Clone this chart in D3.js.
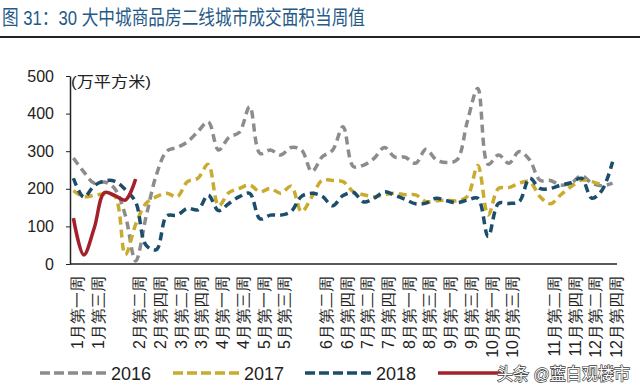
<!DOCTYPE html>
<html>
<head>
<meta charset="utf-8">
<script src="https://cdn.jsdelivr.net/npm/d3@7"></script>
<style>
  body { margin: 0; background: #fff; }
  svg { display: block; font-family: "Liberation Sans", Arial, "Noto Sans CJK SC", sans-serif; }
</style>
</head>
<body>
<div id="container"></div>
<script>
/* CONSTANTS AND GLOBALS */
const width = 640,
  height = 391,
  margin = { top: 76, bottom: 127, left: 70, right: 24 };

// weekly categories (53)
const weeks = [
  "1月第一周", "1月第二周", "1月第三周", "1月第四周", "1月第五周",
  "2月第一周", "2月第二周", "2月第三周", "2月第四周",
  "3月第一周", "3月第二周", "3月第三周", "3月第四周", "3月第五周",
  "4月第一周", "4月第二周", "4月第三周", "4月第四周",
  "5月第一周", "5月第二周", "5月第三周", "5月第四周", "5月第五周",
  "6月第一周", "6月第二周", "6月第三周", "6月第四周",
  "7月第一周", "7月第二周", "7月第三周", "7月第四周", "7月第五周",
  "8月第一周", "8月第二周", "8月第三周", "8月第四周",
  "9月第一周", "9月第二周", "9月第三周", "9月第四周",
  "10月第一周", "10月第二周", "10月第三周", "10月第四周", "10月第五周",
  "11月第一周", "11月第二周", "11月第三周", "11月第四周",
  "12月第一周", "12月第二周", "12月第三周", "12月第四周"
];

// labels actually shown under the axis
const tickLabels = [
  "1月第一周", "1月第三周",
  "2月第二周", "2月第四周", "3月第二周", "3月第四周",
  "4月第一周", "4月第三周", "5月第一周", "5月第三周",
  "6月第二周", "6月第四周", "7月第二周", "7月第四周",
  "8月第一周", "8月第三周", "9月第一周", "9月第三周",
  "10月第一周", "10月第三周",
  "11月第二周", "11月第四周", "12月第二周", "12月第四周"
];

const yTicks = [0, 100, 200, 300, 400, 500];
const years = ["2016", "2017", "2018", "2019"];

// 万平方米
const s2016 = [282, 245, 215, 218, 200, 130, 8, 125, 237, 300, 310, 325, 352, 378, 303, 337, 350, 418,
  294, 303, 290, 310, 303, 246, 285, 303, 365, 259, 263, 281, 310, 284, 284, 268, 305, 277,
  270, 277, 380, 467, 265, 290, 268, 299, 277, 223, 222, 210, 215, 235, 215, 208, 215];
const s2017 = [195, 179, 183, 186, 180, 25, 105, 161, 179, 188, 179, 219, 228, 265, 155, 190, 201, 210,
  192, 201, 188, 207, 139, 179, 223, 222, 219, 192, 184, 179, 184, 188, 184, 184, 166, 168,
  170, 168, 180, 262, 130, 201, 203, 215, 219, 179, 160, 184, 206, 223, 219, 210];
const s2018 = [228, 178, 208, 221, 220, 198, 165, 50, 38, 128, 130, 148, 144, 183, 142, 161, 179, 188,
  120, 130, 130, 140, 180, 188, 180, 155, 182, 190, 165, 175, 192, 183, 172, 160, 162, 175,
  168, 163, 170, 175, 73, 161, 161, 166, 228, 201, 201, 210, 216, 228, 175, 197, 272];
const s2019 = [122, 24, 95, 190, 182, 170, 226];

const series = [
  { name: years[0], values: s2016, color: "#8c8c8c", dash: "8,5" },
  { name: years[1], values: s2017, color: "#c9ab2e", dash: "8,5" },
  { name: years[2], values: s2018, color: "#1c4d6b", dash: "8,5" },
  { name: years[3], values: s2019, color: "#a4202b", dash: null }
];

const svg = d3.select("#container")
  .append("svg")
  .attr("width", width)
  .attr("height", height);

svg.append("rect").attr("width", width).attr("height", height).attr("fill", "#fff");

// title
svg.append("text")
  .attr("x", 2)
  .attr("y", 25)
  .attr("font-size", 20)
  .attr("fill", "#255a87")
  .attr("textLength", 363)
  .attr("lengthAdjust", "spacingAndGlyphs")
  .text("图 31：30 大中城商品房二线城市成交面积当周值");

svg.append("line")
  .attr("x1", 0).attr("x2", width)
  .attr("y1", 37).attr("y2", 37)
  .attr("stroke", "#222")
  .attr("stroke-width", 2);

/* SCALES */
const xScale = d3.scalePoint()
  .domain(weeks)
  .range([margin.left, width - margin.right])
  .padding(0.33);

const yScale = d3.scaleLinear()
  .domain([0, 500])
  .range([height - margin.bottom, margin.top]);

/* AXES */
const xAxis = d3.axisBottom(xScale)
  .tickValues(tickLabels)
  .tickSizeInner(0)
  .tickSizeOuter(0);

const xAxisGroup = svg.append("g")
  .attr("transform", `translate(0,${height - margin.bottom})`)
  .call(xAxis);

xAxisGroup.select(".domain")
  .attr("d", `M${margin.left},0H${width - margin.right + 1}`)
  .attr("stroke", "#222")
  .attr("stroke-width", 1.5);

xAxisGroup.selectAll(".tick text")
  .attr("transform", "rotate(-90)")
  .attr("text-anchor", "end")
  .attr("x", -12)
  .attr("y", 0)
  .attr("dy", 9)
  .attr("font-size", 16)
  .attr("fill", "#222");

const yAxis = d3.axisLeft(yScale)
  .tickValues(yTicks)
  .tickSizeInner(4)
  .tickSizeOuter(0)
  .tickPadding(12);

const yAxisGroup = svg.append("g")
  .attr("transform", `translate(${margin.left},0)`)
  .call(yAxis);

yAxisGroup.select(".domain").attr("stroke", "#222").attr("stroke-width", 1.5);
yAxisGroup.selectAll(".tick line").attr("stroke", "#222");
yAxisGroup.selectAll(".tick text")
  .attr("font-size", 16)
  .attr("fill", "#222");

svg.append("text")
  .attr("x", margin.left + 1)
  .attr("y", 87)
  .attr("font-size", 15)
  .attr("fill", "#222")
  .attr("textLength", 80)
  .attr("lengthAdjust", "spacingAndGlyphs")
  .text("(万平方米)");

/* LINES */
const lineGen = d3.line()
  .defined(d => d != null)
  .x((d, i) => xScale(weeks[i]))
  .y(d => yScale(d))
  .curve(d3.curveCatmullRom.alpha(0.5));

svg.selectAll(".line")
  .data(series)
  .join("path")
  .attr("class", "line")
  .attr("fill", "none")
  .attr("stroke", d => d.color)
  .attr("stroke-width", 3.5)
  .attr("stroke-dasharray", d => d.dash)
  .attr("stroke-linejoin", "round")
  .attr("d", d => lineGen(d.values));

/* LEGEND */
const legendY = 373;
const legendX = [40, 173, 305, 438];
const legend = svg.selectAll(".legend")
  .data(series)
  .join("g")
  .attr("class", "legend")
  .attr("transform", (d, i) => `translate(${legendX[i]},${legendY})`);

legend.append("line")
  .attr("x1", 0).attr("x2", 66)
  .attr("stroke", d => d.color)
  .attr("stroke-width", 3.5)
  .attr("stroke-dasharray", d => d.dash ? "10,4" : null);

legend.filter(d => d.dash)
  .append("text")
  .attr("x", 71)
  .attr("y", 7)
  .attr("font-size", 18)
  .attr("fill", "#222")
  .text(d => d.name);

// watermark
svg.append("text")
  .attr("x", 497)
  .attr("y", 380)
  .attr("font-size", 17)
  .attr("fill", "#fff")
  .attr("stroke", "#3a3a3a")
  .attr("stroke-width", 1.3)
  .attr("paint-order", "stroke")
  .attr("textLength", 133)
  .attr("lengthAdjust", "spacingAndGlyphs")
  .text("头条 @蓝白观楼市");
</script>
</body>
</html>
